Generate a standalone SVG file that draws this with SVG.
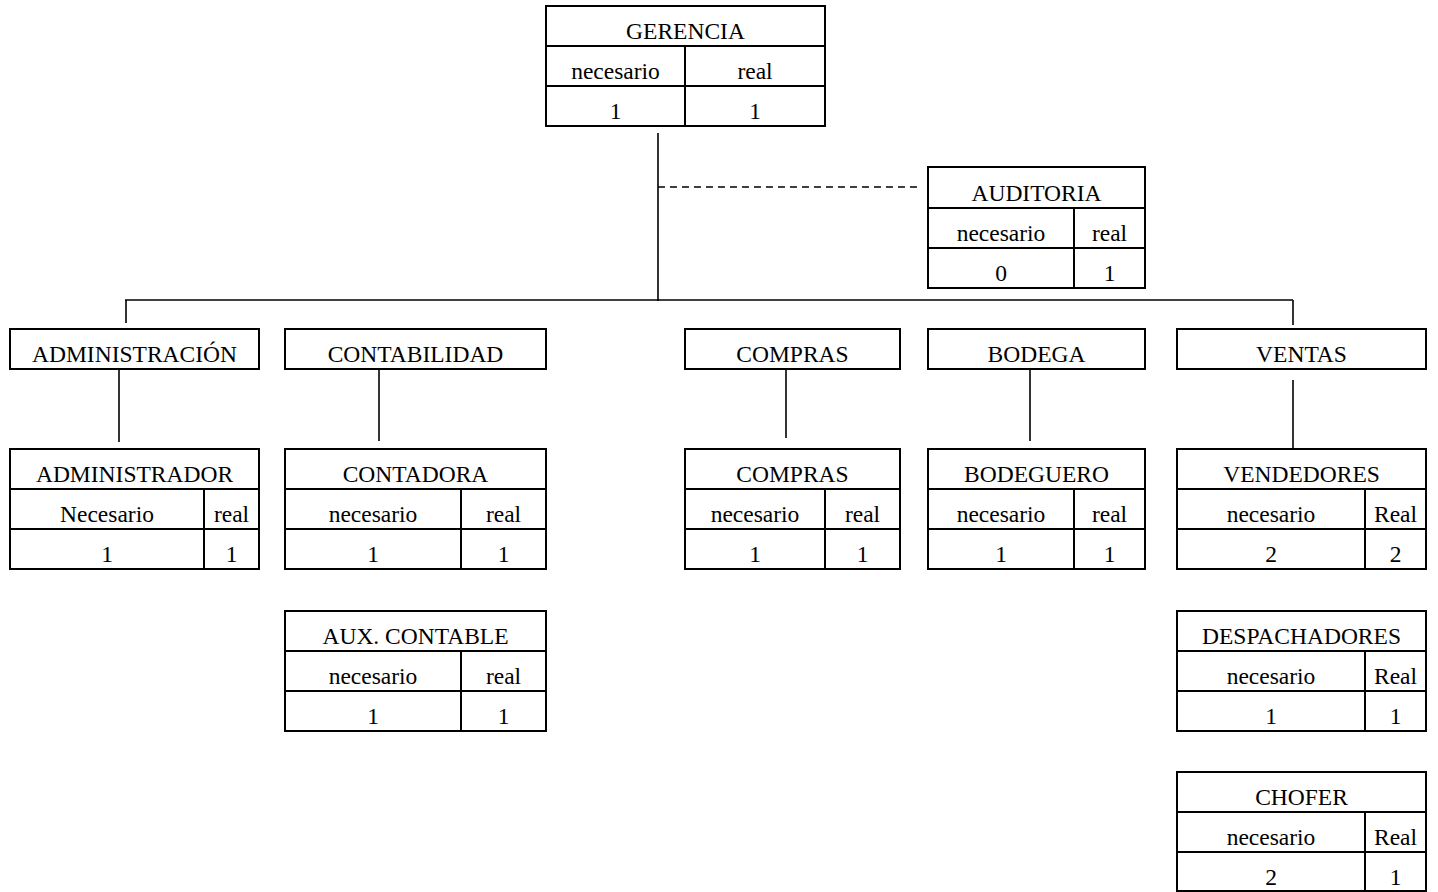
<svg xmlns="http://www.w3.org/2000/svg" width="1438" height="892" viewBox="0 0 1438 892">
  <style>
    .box { fill: #fff; stroke: #000; stroke-width: 2; }
    .rule { stroke: #000; stroke-width: 2; fill: none; }
    .link { stroke: #000; stroke-width: 1.6; fill: none; }
    .dash { stroke: #000; stroke-width: 1.6; fill: none; stroke-dasharray: 7 5; }
    text { font-family: "Liberation Serif", "Times New Roman", serif; font-size: 23.5px; fill: #000; text-anchor: middle; }
  </style>

  <!-- connectors -->
  <g id="connectors">
    <line class="link" x1="658" y1="133" x2="658" y2="301"/>
    <line class="dash" x1="658" y1="187" x2="918" y2="187"/>
    <line class="link" x1="125" y1="300" x2="1293" y2="300"/>
    <line class="link" x1="126" y1="300" x2="126" y2="323"/>
    <line class="link" x1="1293" y1="300" x2="1293" y2="325"/>
    <line class="link" x1="119" y1="370" x2="119" y2="442"/>
    <line class="link" x1="379" y1="370" x2="379" y2="441"/>
    <line class="link" x1="786" y1="370" x2="786" y2="438"/>
    <line class="link" x1="1030" y1="370" x2="1030" y2="441"/>
    <line class="link" x1="1293" y1="380" x2="1293" y2="452"/>
  </g>

  <!-- top: gerencia -->
  <g id="gerencia">
    <rect class="box" x="546" y="6" width="279" height="120"/>
    <line class="rule" x1="546" y1="46" x2="825" y2="46"/>
    <line class="rule" x1="546" y1="86" x2="825" y2="86"/>
    <line class="rule" x1="685" y1="46" x2="685" y2="126"/>
    <text x="685.5" y="39">GERENCIA</text>
    <text x="615.5" y="79">necesario</text>
    <text x="755" y="79">real</text>
    <text x="615.5" y="119">1</text>
    <text x="755" y="119">1</text>
  </g>

  <!-- staff unit -->
  <g id="auditoria">
    <rect class="box" x="928" y="167" width="217" height="121"/>
    <line class="rule" x1="928" y1="208" x2="1145" y2="208"/>
    <line class="rule" x1="928" y1="248" x2="1145" y2="248"/>
    <line class="rule" x1="1074" y1="208" x2="1074" y2="288"/>
    <text x="1036.5" y="201">AUDITORIA</text>
    <text x="1001" y="241">necesario</text>
    <text x="1109.5" y="241">real</text>
    <text x="1001" y="281">0</text>
    <text x="1109.5" y="281">1</text>
  </g>

  <!-- departments -->
  <g id="administracion">
    <rect class="box" x="10" y="329" width="249" height="40"/>
    <text x="134.5" y="362">ADMINISTRACIÓN</text>
  </g>
  <g id="contabilidad">
    <rect class="box" x="285" y="329" width="261" height="40"/>
    <text x="415.5" y="362">CONTABILIDAD</text>
  </g>
  <g id="compras">
    <rect class="box" x="685" y="329" width="215" height="40"/>
    <text x="792.5" y="362">COMPRAS</text>
  </g>
  <g id="bodega">
    <rect class="box" x="928" y="329" width="217" height="40"/>
    <text x="1036.5" y="362">BODEGA</text>
  </g>
  <g id="ventas">
    <rect class="box" x="1177" y="329" width="249" height="40"/>
    <text x="1301.5" y="362">VENTAS</text>
  </g>

  <!-- positions -->
  <g id="administrador">
    <rect class="box" x="10" y="449" width="249" height="120"/>
    <line class="rule" x1="10" y1="489" x2="259" y2="489"/>
    <line class="rule" x1="10" y1="529" x2="259" y2="529"/>
    <line class="rule" x1="204" y1="489" x2="204" y2="569"/>
    <text x="134.5" y="482">ADMINISTRADOR</text>
    <text x="107" y="522">Necesario</text>
    <text x="231.5" y="522">real</text>
    <text x="107" y="562">1</text>
    <text x="231.5" y="562">1</text>
  </g>
  <g id="contadora">
    <rect class="box" x="285" y="449" width="261" height="120"/>
    <line class="rule" x1="285" y1="489" x2="546" y2="489"/>
    <line class="rule" x1="285" y1="529" x2="546" y2="529"/>
    <line class="rule" x1="461" y1="489" x2="461" y2="569"/>
    <text x="415.5" y="482">CONTADORA</text>
    <text x="373" y="522">necesario</text>
    <text x="503.5" y="522">real</text>
    <text x="373" y="562">1</text>
    <text x="503.5" y="562">1</text>
  </g>
  <g id="compras-puesto">
    <rect class="box" x="685" y="449" width="215" height="120"/>
    <line class="rule" x1="685" y1="489" x2="900" y2="489"/>
    <line class="rule" x1="685" y1="529" x2="900" y2="529"/>
    <line class="rule" x1="825" y1="489" x2="825" y2="569"/>
    <text x="792.5" y="482">COMPRAS</text>
    <text x="755" y="522">necesario</text>
    <text x="862.5" y="522">real</text>
    <text x="755" y="562">1</text>
    <text x="862.5" y="562">1</text>
  </g>
  <g id="bodeguero">
    <rect class="box" x="928" y="449" width="217" height="120"/>
    <line class="rule" x1="928" y1="489" x2="1145" y2="489"/>
    <line class="rule" x1="928" y1="529" x2="1145" y2="529"/>
    <line class="rule" x1="1074" y1="489" x2="1074" y2="569"/>
    <text x="1036.5" y="482">BODEGUERO</text>
    <text x="1001" y="522">necesario</text>
    <text x="1109.5" y="522">real</text>
    <text x="1001" y="562">1</text>
    <text x="1109.5" y="562">1</text>
  </g>
  <g id="vendedores">
    <rect class="box" x="1177" y="449" width="249" height="120"/>
    <line class="rule" x1="1177" y1="489" x2="1426" y2="489"/>
    <line class="rule" x1="1177" y1="529" x2="1426" y2="529"/>
    <line class="rule" x1="1365" y1="489" x2="1365" y2="569"/>
    <text x="1301.5" y="482">VENDEDORES</text>
    <text x="1271" y="522">necesario</text>
    <text x="1395.5" y="522">Real</text>
    <text x="1271" y="562">2</text>
    <text x="1395.5" y="562">2</text>
  </g>
  <g id="aux-contable">
    <rect class="box" x="285" y="611" width="261" height="120"/>
    <line class="rule" x1="285" y1="651" x2="546" y2="651"/>
    <line class="rule" x1="285" y1="691" x2="546" y2="691"/>
    <line class="rule" x1="461" y1="651" x2="461" y2="731"/>
    <text x="415.5" y="644">AUX. CONTABLE</text>
    <text x="373" y="684">necesario</text>
    <text x="503.5" y="684">real</text>
    <text x="373" y="724">1</text>
    <text x="503.5" y="724">1</text>
  </g>
  <g id="despachadores">
    <rect class="box" x="1177" y="611" width="249" height="120"/>
    <line class="rule" x1="1177" y1="651" x2="1426" y2="651"/>
    <line class="rule" x1="1177" y1="691" x2="1426" y2="691"/>
    <line class="rule" x1="1365" y1="651" x2="1365" y2="731"/>
    <text x="1301.5" y="644">DESPACHADORES</text>
    <text x="1271" y="684">necesario</text>
    <text x="1395.5" y="684">Real</text>
    <text x="1271" y="724">1</text>
    <text x="1395.5" y="724">1</text>
  </g>
  <g id="chofer">
    <rect class="box" x="1177" y="772" width="249" height="119"/>
    <line class="rule" x1="1177" y1="812" x2="1426" y2="812"/>
    <line class="rule" x1="1177" y1="852" x2="1426" y2="852"/>
    <line class="rule" x1="1365" y1="812" x2="1365" y2="891"/>
    <text x="1301.5" y="805">CHOFER</text>
    <text x="1271" y="845">necesario</text>
    <text x="1395.5" y="845">Real</text>
    <text x="1271" y="885">2</text>
    <text x="1395.5" y="885">1</text>
  </g>
</svg>
